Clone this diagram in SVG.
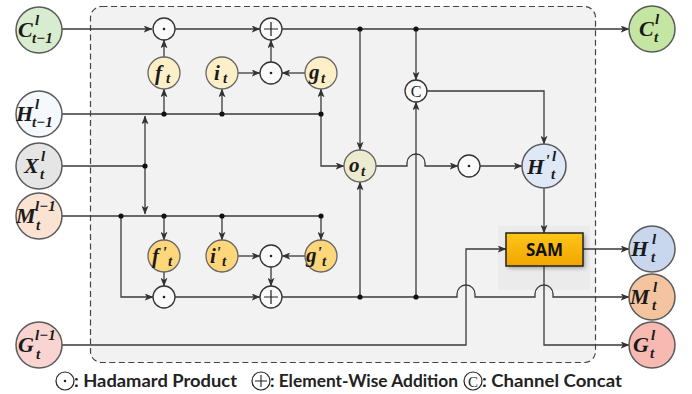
<svg xmlns="http://www.w3.org/2000/svg" width="692" height="394" viewBox="0 0 692 394">
<defs>
<marker id="ah" viewBox="0 0 10 8" refX="9.5" refY="4" markerWidth="9" markerHeight="7" markerUnits="userSpaceOnUse" orient="auto"><path d="M0,0 L10,4 L0,8 L2.5,4 z" fill="#333"/></marker>
<linearGradient id="sam" x1="0" y1="0" x2="0" y2="1"><stop offset="0" stop-color="#ffc61a"/><stop offset="1" stop-color="#f0a500"/></linearGradient>
<filter id="blur" x="-30%" y="-30%" width="160%" height="160%"><feGaussianBlur stdDeviation="2"/></filter>
</defs>
<style>
.ln{fill:none;stroke:#3a3a3a;stroke-width:1.3}
.dot{fill:#111}
.op{fill:#fafafa;stroke:#333;stroke-width:1.3}
.node{stroke:#5a5a5a;stroke-width:1.5}
.gate{stroke:#666;stroke-width:1.3}
.m{font-family:"Liberation Serif","DejaVu Serif",serif;font-weight:bold;font-style:italic;fill:#1a1a1a}
.big{font-size:22px}
.sm{font-size:15px}
.g{font-size:21px}
.pr{font-size:17px}
.lg{font-family:Lato,"Open Sans","Liberation Sans",sans-serif;font-weight:bold;font-size:16.5px;fill:#222}
.opt{font-family:"Liberation Serif",serif;fill:#222}
</style>
<rect x="90.5" y="6.5" width="505" height="356" rx="11" fill="#f2f2f2" stroke="#444" stroke-width="1.2" stroke-dasharray="6,3.5"/>
<rect x="498" y="226" width="92" height="64" fill="#e8e8e8" opacity="0.7"/>

<g id="connectors">
<path class="ln" d="M62,29 L152,29" marker-end="url(#ah)"/>
<path class="ln" d="M164,57 L164,40" marker-end="url(#ah)"/>
<path class="ln" d="M175,29 L260,29" marker-end="url(#ah)"/>
<path class="ln" d="M282,29 L629,29" marker-end="url(#ah)"/>
<path class="ln" d="M360,29 L360,150" marker-end="url(#ah)"/>
<path class="ln" d="M416,29 L416,80" marker-end="url(#ah)"/>
<path class="ln" d="M427,91 L544,91 L544,144" marker-end="url(#ah)"/>
<path class="ln" d="M62,114 L321,114"/>
<path class="ln" d="M164,114 L164,89" marker-end="url(#ah)"/>
<path class="ln" d="M222,114 L222,89" marker-end="url(#ah)"/>
<path class="ln" d="M321,114 L321,89" marker-end="url(#ah)"/>
<path class="ln" d="M321,114 L321,166 L344,166" marker-end="url(#ah)"/>
<path class="ln" d="M238,73 L260,73" marker-end="url(#ah)"/>
<path class="ln" d="M305,73 L282,73" marker-end="url(#ah)"/>
<path class="ln" d="M271,62 L271,40" marker-end="url(#ah)"/>
<path class="ln" d="M62,166 L145,166"/>
<path class="ln" d="M145,166 L145,116" marker-end="url(#ah)"/>
<path class="ln" d="M145,166 L145,214" marker-end="url(#ah)"/>
<path class="ln" d="M62,216 L321,216"/>
<path class="ln" d="M164,216 L164,240" marker-end="url(#ah)"/>
<path class="ln" d="M222,216 L222,240" marker-end="url(#ah)"/>
<path class="ln" d="M321,216 L321,240" marker-end="url(#ah)"/>
<path class="ln" d="M238,256 L260,256" marker-end="url(#ah)"/>
<path class="ln" d="M305,256 L282,256" marker-end="url(#ah)"/>
<path class="ln" d="M271,267 L271,286" marker-end="url(#ah)"/>
<path class="ln" d="M164,272 L164,286" marker-end="url(#ah)"/>
<path class="ln" d="M121,216 L121,297 L153,297" marker-end="url(#ah)"/>
<path class="ln" d="M175,297 L260,297" marker-end="url(#ah)"/>
<path class="ln" d="M282,297 L457,297 L457,294 A9,9 0 0 1 475,294 L475,297 L535,297 L535,294 A9,9 0 0 1 553,294 L553,297 L629,297" marker-end="url(#ah)"/>
<path class="ln" d="M360,297 L360,182" marker-end="url(#ah)"/>
<path class="ln" d="M416,297 L416,102" marker-end="url(#ah)"/>
<path class="ln" d="M376,166 L407,166 L407,163 A9,9 0 0 1 425,163 L425,166 L458,166" marker-end="url(#ah)"/>
<path class="ln" d="M480,166 L522,166" marker-end="url(#ah)"/>
<path class="ln" d="M544,188 L544,233" marker-end="url(#ah)"/>
<path class="ln" d="M62,345 L466,345 L466,249 L506,249" marker-end="url(#ah)"/>
<path class="ln" d="M583,249 L629,249" marker-end="url(#ah)"/>
<path class="ln" d="M544,266 L544,345 L629,345" marker-end="url(#ah)"/>
<circle class="dot" cx="164" cy="114" r="2.6"/>
<circle class="dot" cx="222" cy="114" r="2.6"/>
<circle class="dot" cx="321" cy="114" r="2.6"/>
<circle class="dot" cx="145" cy="166" r="2.6"/>
<circle class="dot" cx="121" cy="216" r="2.6"/>
<circle class="dot" cx="164" cy="216" r="2.6"/>
<circle class="dot" cx="222" cy="216" r="2.6"/>
<circle class="dot" cx="321" cy="216" r="2.6"/>
<circle class="dot" cx="360" cy="29" r="2.6"/>
<circle class="dot" cx="416" cy="29" r="2.6"/>
<circle class="dot" cx="360" cy="297" r="2.6"/>
<circle class="dot" cx="416" cy="297" r="2.6"/>
</g>

<g id="op-mul-c"><circle class="op" cx="164" cy="29" r="11"/><circle cx="164" cy="29" r="1.3" fill="#222"/></g>
<g id="op-add-c"><circle class="op" cx="271" cy="29" r="11"/><path d="M264,29 H278 M271,22 V36" stroke="#222" stroke-width="1.2"/></g>
<g id="op-mul-ig"><circle class="op" cx="271" cy="73" r="11"/><circle cx="271" cy="73" r="1.3" fill="#222"/></g>
<g id="op-concat"><circle class="op" cx="416" cy="91" r="11"/><text class="opt" x="416" y="96.5" font-size="16" text-anchor="middle">C</text></g>
<g id="op-mul-o"><circle class="op" cx="469" cy="166" r="11"/><circle cx="469" cy="166" r="1.3" fill="#222"/></g>
<g id="op-mul-ig2"><circle class="op" cx="271" cy="256" r="11"/><circle cx="271" cy="256" r="1.3" fill="#222"/></g>
<g id="op-mul-f2"><circle class="op" cx="164" cy="297" r="11"/><circle cx="164" cy="297" r="1.3" fill="#222"/></g>
<g id="op-add-m"><circle class="op" cx="271" cy="297" r="11"/><path d="M264,297 H278 M271,290 V304" stroke="#222" stroke-width="1.2"/></g>

<g id="f_t"><circle class="gate" cx="164" cy="73" r="16" fill="#fdf0c8"/><text class="m"><tspan class="g" x="155" y="80">f</tspan><tspan class="sm" x="166" y="83">t</tspan></text></g>
<g id="i_t"><circle class="gate" cx="222" cy="73" r="16" fill="#fdf0c8"/><text class="m"><tspan class="g" x="214" y="80">i</tspan><tspan class="sm" x="223" y="83">t</tspan></text></g>
<g id="g_t"><circle class="gate" cx="321" cy="73" r="16" fill="#fdf0c8"/><text class="m"><tspan class="g" x="309" y="79">g</tspan><tspan class="sm" x="321" y="83">t</tspan></text></g>
<g id="o_t"><circle class="gate" cx="360" cy="166" r="16" fill="#ecebcf"/><text class="m"><tspan class="g" x="349" y="172">o</tspan><tspan class="sm" x="361" y="176">t</tspan></text></g>
<g id="f2_t"><circle class="gate" cx="164" cy="256" r="16" fill="#fdd77a"/><text class="m"><tspan class="g" x="152" y="263">f</tspan><tspan class="pr" x="162" y="258">'</tspan><tspan class="sm" x="168" y="266">t</tspan></text></g>
<g id="i2_t"><circle class="gate" cx="222" cy="256" r="16" fill="#fdd77a"/><text class="m"><tspan class="g" x="210" y="263">i</tspan><tspan class="pr" x="216" y="258">'</tspan><tspan class="sm" x="222" y="266">t</tspan></text></g>
<g id="g2_t"><circle class="gate" cx="321" cy="256" r="16" fill="#fdd77a"/><text class="m"><tspan class="g" x="306" y="262">g</tspan><tspan class="pr" x="317" y="258">'</tspan><tspan class="sm" x="322" y="266">t</tspan></text></g>
<g id="Hp_t"><circle class="node" cx="544" cy="166" r="22" fill="#dfe8f6"/><text class="m"><tspan class="big" x="527" y="174">H</tspan><tspan class="pr" x="545" y="166">'</tspan><tspan class="sm" x="552" y="161">l</tspan><tspan class="sm" x="551" y="179">t</tspan></text></g>
<g id="SAM"><rect x="508" y="235" width="77" height="33" fill="#000" opacity="0.35" filter="url(#blur)"/><rect x="506" y="233" width="77" height="33" fill="url(#sam)" stroke="#222" stroke-width="1.5"/><text x="544.5" y="256" font-family="'Open Sans','Liberation Sans',sans-serif" font-weight="bold" font-size="17" text-anchor="middle" fill="#111">SAM</text></g>

<g id="C_tm1"><circle class="node" cx="39" cy="30" r="23" fill="#d8edcf"/><text class="m"><tspan class="big" x="18" y="37">C</tspan><tspan class="sm" x="35" y="25">l</tspan><tspan class="sm" x="32" y="43">t−1</tspan></text></g>
<g id="H_tm1"><circle class="node" cx="39" cy="114" r="23" fill="#f5f8fd"/><text class="m"><tspan class="big" x="16" y="121">H</tspan><tspan class="sm" x="35" y="109">l</tspan><tspan class="sm" x="32" y="127">t−1</tspan></text></g>
<g id="X_t"><circle class="node" cx="39" cy="166" r="23" fill="#e5e5e5"/><text class="m"><tspan class="big" x="24" y="173">X</tspan><tspan class="sm" x="41" y="161">l</tspan><tspan class="sm" x="40" y="179">t</tspan></text></g>
<g id="M_lm1"><circle class="node" cx="39" cy="216" r="23" fill="#fbe3d3"/><text class="m"><tspan class="big" x="16" y="223">M</tspan><tspan class="sm" x="35" y="211">l−1</tspan><tspan class="sm" x="36" y="230">t</tspan></text></g>
<g id="G_lm1"><circle class="node" cx="39" cy="345" r="23" fill="#f9d4d0"/><text class="m"><tspan class="big" x="18" y="352">G</tspan><tspan class="sm" x="35" y="340">l−1</tspan><tspan class="sm" x="36" y="359">t</tspan></text></g>

<g id="C_t"><circle class="node" cx="652" cy="29" r="23" fill="#c4e6a2"/><text class="m"><tspan class="big" x="639" y="36">C</tspan><tspan class="sm" x="655" y="24">l</tspan><tspan class="sm" x="654" y="42">t</tspan></text></g>
<g id="H_t"><circle class="node" cx="652" cy="249" r="23" fill="#c8d6ee"/><text class="m"><tspan class="big" x="631" y="256">H</tspan><tspan class="sm" x="652" y="244">l</tspan><tspan class="sm" x="651" y="262">t</tspan></text></g>
<g id="M_t"><circle class="node" cx="652" cy="297" r="23" fill="#f4c4a0"/><text class="m"><tspan class="big" x="630" y="304">M</tspan><tspan class="sm" x="653" y="292">l</tspan><tspan class="sm" x="652" y="310">t</tspan></text></g>
<g id="G_t"><circle class="node" cx="652" cy="345" r="23" fill="#f8b9b2"/><text class="m"><tspan class="big" x="633" y="352">G</tspan><tspan class="sm" x="651" y="340">l</tspan><tspan class="sm" x="650" y="358">t</tspan></text></g>

<g id="legend">
<circle cx="65" cy="381" r="9" fill="none" stroke="#222" stroke-width="1.2"/><circle cx="65" cy="381" r="1.3" fill="#222"/>
<text class="lg" x="74" y="387" textLength="163" lengthAdjust="spacingAndGlyphs">: Hadamard Product</text>
<circle cx="261" cy="381" r="9" fill="none" stroke="#222" stroke-width="1.2"/><path d="M255,381 H267 M261,375 V387" stroke="#222" stroke-width="1.1"/>
<text class="lg" x="270" y="387" textLength="188" lengthAdjust="spacingAndGlyphs">: Element-Wise Addition</text>
<circle cx="473" cy="381" r="9" fill="none" stroke="#222" stroke-width="1.2"/><text class="opt" x="473" y="386.5" font-size="15" text-anchor="middle">C</text>
<text class="lg" x="482" y="387" textLength="140" lengthAdjust="spacingAndGlyphs">: Channel Concat</text>
</g>
</svg>
